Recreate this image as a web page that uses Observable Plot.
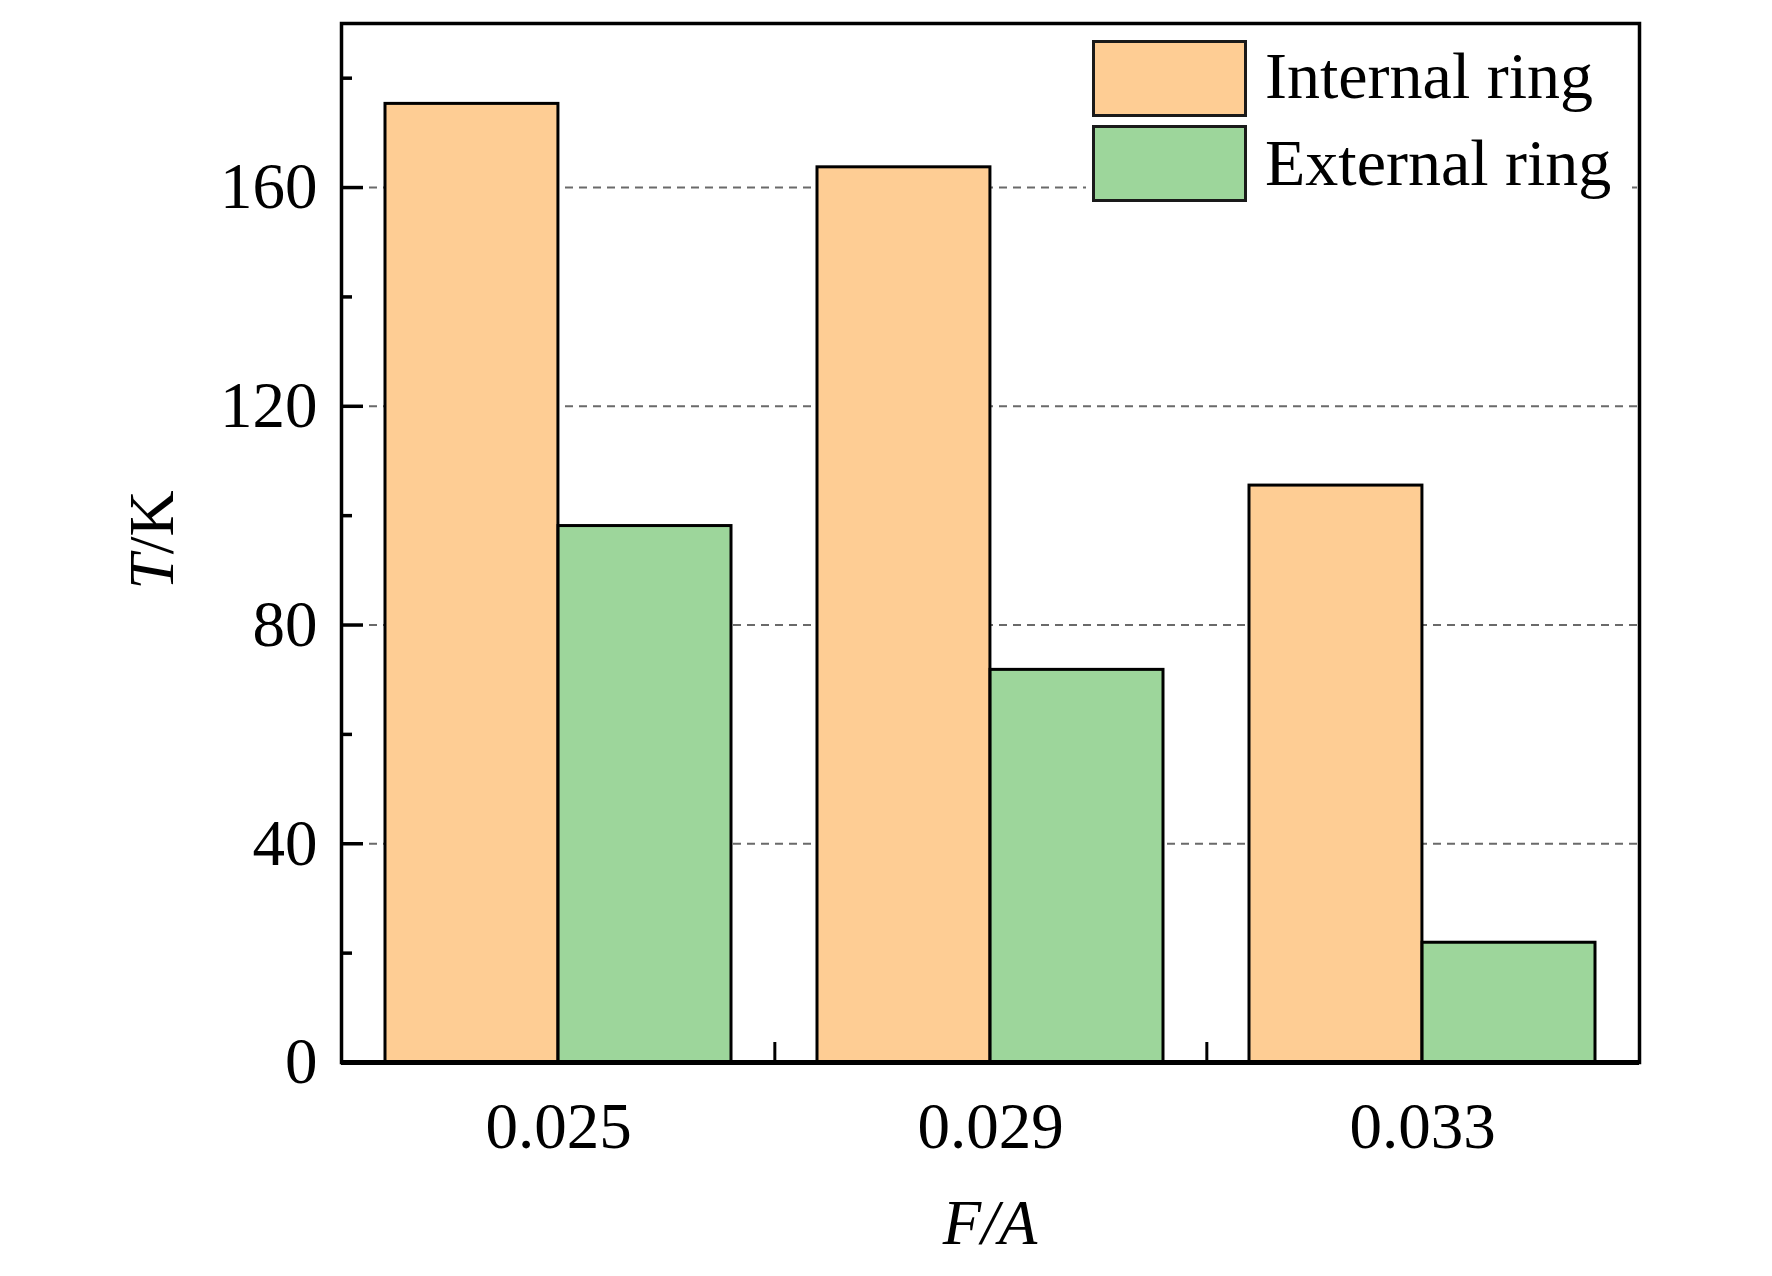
<!DOCTYPE html>
<html>
<head>
<meta charset="utf-8">
<script src="https://cdn.jsdelivr.net/npm/d3@7"></script>
<script src="https://cdn.jsdelivr.net/npm/@observablehq/plot@0.6"></script>
<style>
  html, body { margin: 0; padding: 0; background: white; }
  #wrap { position: relative; width: 1772px; height: 1276px; font-family: "Liberation Serif", "Times New Roman", serif; color: black; }
  #wrap svg { position: absolute; left: 0; top: 0; }
  .ov { position: absolute; line-height: 1; white-space: nowrap; }
</style>
</head>
<body>
<div id="wrap"></div>
<script>
// ---- data ----
const categories = ["0.025", "0.029", "0.033"];
const series = ["Internal ring", "External ring"];
const internalT = [175.3, 163.7, 105.5];
const externalT = [98.1, 71.8, 21.9];
const colors = ["#FECD94", "#9DD69B"];
const yMajorTicks = [0, 40, 80, 120, 160];
const yMinorTicks = [20, 60, 100, 140, 180];
const gridTicks = [40, 80, 120, 160];
const xTitle = "F/A";

// ---- layout ----
const W = 1772, H = 1276;
const mL = 341, mR = 133, mT = 23, mB = 214;
const plotW = W - mL - mR;
const plotH = H - mT - mB;
const padInner = 0.2, padOuter = 0.1;
const step = plotW / (categories.length - padInner + 2 * padOuter);
const bw = step * (1 - padInner);

const rows = categories.flatMap((c, i) => [
  {fa: c, series: series[0], T: internalT[i]},
  {fa: c, series: series[1], T: externalT[i]}
]);

const chart = Plot.plot({
  width: W,
  height: H,
  marginLeft: mL,
  marginRight: mR,
  marginTop: mT,
  marginBottom: mB,
  style: {fontFamily: "'Liberation Serif', 'Times New Roman', serif", fontSize: "65px", color: "black", background: "white"},
  x: {type: "band", domain: categories, paddingInner: padInner, paddingOuter: padOuter, label: null},
  y: {domain: [0, 190], label: null},
  color: {domain: series, range: colors},
  marks: [
    Plot.ruleY(gridTicks, {stroke: "#6a6a6a", strokeWidth: 2, strokeDasharray: "8,6"}),
    Plot.barY(rows.filter(d => d.series === series[0]), {x: "fa", y: "T", fill: "series", stroke: "black", strokeWidth: 3, insetRight: bw / 2}),
    Plot.barY(rows.filter(d => d.series === series[1]), {x: "fa", y: "T", fill: "series", stroke: "black", strokeWidth: 3, insetLeft: bw / 2}),
    Plot.frame({stroke: "black", strokeWidth: 3.5}),
    Plot.ruleY([0], {stroke: "black", strokeWidth: 5}),
    Plot.ruleY(yMajorTicks, {stroke: "black", strokeWidth: 3.5, insetRight: plotW - 22}),
    Plot.ruleY(yMinorTicks, {stroke: "black", strokeWidth: 3.5, insetRight: plotW - 11}),
    Plot.ruleX(categories.slice(0, -1), {stroke: "black", strokeWidth: 3, dx: step / 2, insetTop: plotH - 20}),
    Plot.axisY({ticks: yMajorTicks, tickSize: 0, tickPadding: 24, fontSize: 65, label: null}),
    Plot.axisX({tickSize: 0, tickPadding: 39, fontSize: 65, label: null})
  ]
});

const wrap = document.getElementById("wrap");
wrap.appendChild(chart);

// ---- legend (inside frame, top right) ----
const bg = document.createElement("div");
bg.className = "ov";
Object.assign(bg.style, {left: "1086px", top: "32px", width: "546px", height: "178px", background: "white"});
wrap.appendChild(bg);

const swTops = [40, 125];
const txtTops = [42.7, 129.7];
series.forEach((s, i) => {
  const sw = document.createElement("div");
  sw.className = "ov";
  Object.assign(sw.style, {
    left: "1092px", top: swTops[i] + "px", width: "155px", height: "77px",
    background: colors[i], border: "3px solid #1a1a1a", boxSizing: "border-box"
  });
  wrap.appendChild(sw);
  const t = document.createElement("div");
  t.className = "ov";
  Object.assign(t.style, {left: "1265px", top: txtTops[i] + "px", fontSize: "66px"});
  t.textContent = s;
  wrap.appendChild(t);
});

// ---- axis titles ----
const yt = document.createElement("div");
yt.className = "ov";
Object.assign(yt.style, {left: "151.5px", top: "540px", fontSize: "64px", transform: "translate(-50%, -50%) rotate(-90deg)"});
yt.innerHTML = "<i>T</i>/K";
wrap.appendChild(yt);

const xt = document.createElement("div");
xt.className = "ov";
Object.assign(xt.style, {left: "990px", top: "1192px", fontSize: "63px", fontStyle: "italic", transform: "translateX(-50%)"});
xt.textContent = xTitle;
wrap.appendChild(xt);
</script>
</body>
</html>
